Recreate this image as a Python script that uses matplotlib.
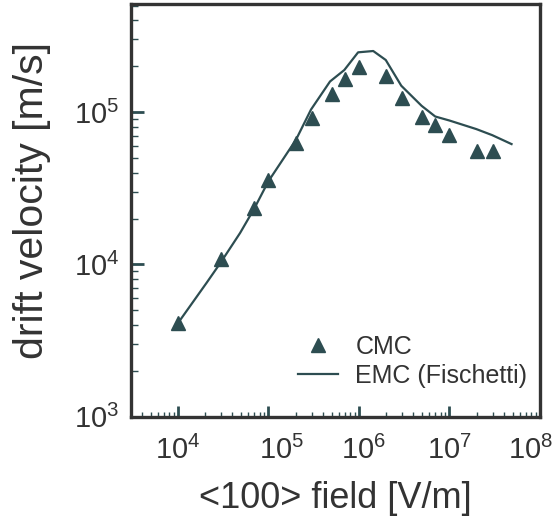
import numpy as np
import matplotlib
matplotlib.use('Agg')
import matplotlib.pyplot as plt
from matplotlib.ticker import LogLocator, NullFormatter
from matplotlib.transforms import ScaledTranslation

plt.rcParams['font.family'] = ['Liberation Sans', 'DejaVu Sans']
plt.rcParams['mathtext.fontset'] = 'custom'
plt.rcParams['mathtext.rm'] = 'Liberation Sans'
plt.rcParams['mathtext.it'] = 'Liberation Sans'
plt.rcParams['mathtext.bf'] = 'Liberation Sans'

# CMC points
cmc_field = [1e4, 3e4, 7e4, 1e5, 2e5, 3e5, 5e5, 7e5, 1e6, 2e6, 3e6, 5e6, 7e6, 1e7, 2e7, 3e7]
cmc_vel = [4.15e3, 1.08e4, 2.33e4, 3.6e4, 6.3e4, 9.1e4, 1.31e5, 1.66e5, 1.99e5,
           1.72e5, 1.24e5, 9.36e4, 8.26e4, 7.1e4, 5.58e4, 5.58e4]

# EMC (Fischetti) curve
emc_field = [1e4, 2.09e4, 2.98e4, 4.88e4, 7.0e4, 1e5, 2.02e5, 2.96e5, 4.8e5, 6.9e5,
             9.8e5, 1.44e6, 1.98e6, 2.94e6, 4.93e6, 6.97e6, 1e7, 1.98e7, 2.97e7, 4.85e7]
emc_vel = [4.1e3, 7.6e3, 1.03e4, 1.61e4, 2.33e4, 3.51e4, 6.59e4, 1.04e5, 1.59e5, 1.89e5,
           2.47e5, 2.52e5, 2.2e5, 1.49e5, 1.1e5, 9.36e4, 8.81e4, 7.74e4, 7.06e4, 6.17e4]

col = '#2d4d51'
txt = '#333333'

fig = plt.figure(figsize=(5.59, 5.29), dpi=100)
ax = fig.add_axes([0.2338, 0.2123, 0.7322, 0.7801])

ax.plot(emc_field, emc_vel, color=col, lw=1.6, label='EMC (Fischetti)', zorder=2)
ax.plot(cmc_field, cmc_vel, ls='none', marker='^', ms=10, color=col, label='CMC', zorder=3)

ax.set_xscale('log')
ax.set_yscale('log')
ax.set_xlim(10**3.48, 1e8)
ax.set_ylim(1e3, 10**5.71)

ax.xaxis.set_major_locator(LogLocator(base=10, numticks=10))
ax.xaxis.set_minor_locator(LogLocator(base=10, subs=np.arange(2, 10), numticks=20))
ax.yaxis.set_major_locator(LogLocator(base=10, numticks=10))
ax.yaxis.set_minor_locator(LogLocator(base=10, subs=np.arange(2, 10), numticks=20))
ax.xaxis.set_minor_formatter(NullFormatter())
ax.yaxis.set_minor_formatter(NullFormatter())

ax.tick_params(axis='both', which='major', direction='in', colors=col, labelcolor=txt,
               labelsize=21, top=False, right=False)
ax.tick_params(axis='x', which='major', length=8, width=2, pad=14)
ax.tick_params(axis='y', which='major', length=9, width=2, pad=8)
ax.tick_params(axis='x', which='minor', direction='in', length=3.5, width=1, colors=col, top=False)
ax.tick_params(axis='y', which='minor', direction='in', length=5, width=1, colors=col, right=False)

for s in ax.spines.values():
    s.set_linewidth(2.4)
    s.set_color('#333333')

ax.set_xlabel('<100> field [V/m]', fontsize=26, color=txt, labelpad=11)
ax.set_ylabel('drift velocity [m/s]', fontsize=29.5, color=txt)
ax.yaxis.set_label_coords(-0.195, 0.525)

# small horizontal shifts of some x tick labels, as in the original figure
fig.canvas.draw()
shifts = {5: 13, 6: 5, 8: -9}
for tk in ax.xaxis.get_major_ticks():
    e = int(round(np.log10(tk.get_loc())))
    if e in shifts:
        tk.label1.set_transform(tk.label1.get_transform() +
                                ScaledTranslation(shifts[e] / 100, 0, fig.dpi_scale_trans))

h, l = ax.get_legend_handles_labels()
ax.legend(h[::-1], l[::-1], loc='lower right', bbox_to_anchor=(1.0, 0.04), frameon=False,
          fontsize=18, handlelength=1.6, handletextpad=0.7, labelspacing=0.2,
          labelcolor=txt, borderaxespad=0.1)

fig.savefig('out.png', dpi=100)
